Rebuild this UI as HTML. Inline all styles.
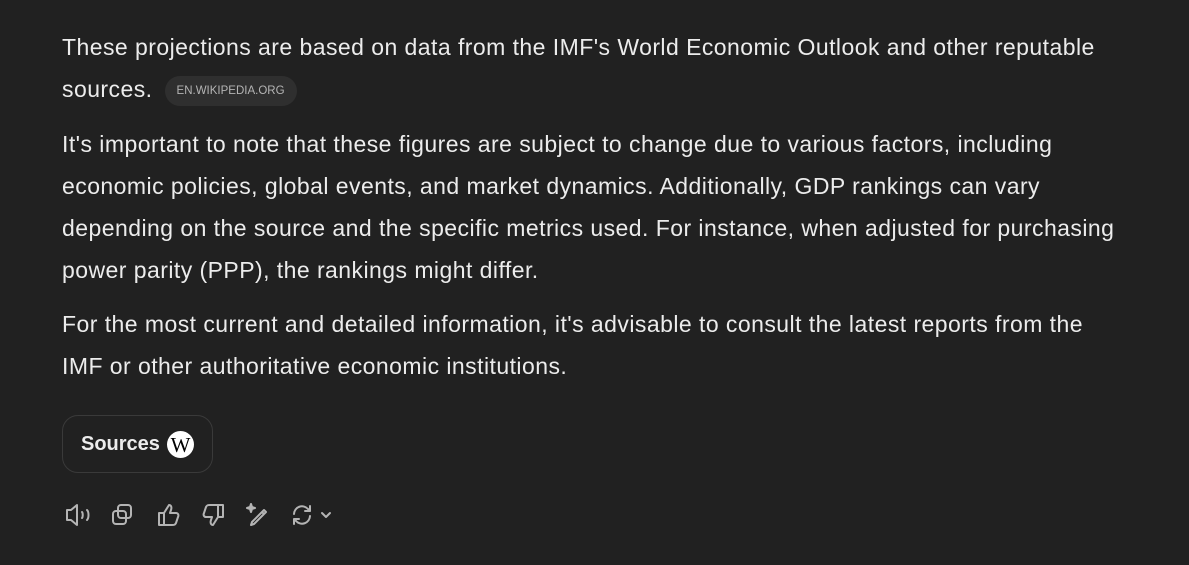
<!DOCTYPE html>
<html><head><meta charset="utf-8"><style>
body{margin:0;width:1189px;height:565px;background:#212121;overflow:hidden;font-family:"Liberation Sans",sans-serif;color:#ececec}
.l{position:absolute;left:62px;font-size:23px;line-height:42px;height:42px;white-space:nowrap;letter-spacing:0.45px}
.chip{display:inline-block;background:#2f2f2f;color:#b4b4b4;font-size:11.5px;line-height:30px;height:30px;padding:0 12px;border-radius:15px;vertical-align:middle;margin-left:12px;letter-spacing:0}
.btn{position:absolute;left:62px;top:415px;width:151px;height:58px;border:1px solid #3a3a3a;border-radius:16px;box-sizing:border-box}
.ic{position:absolute;top:502px}
</style></head><body>
<div class="l" style="top:26px">These projections are based on data from the IMF's World Economic Outlook and other reputable</div>
<div class="l" style="top:68px">sources.<span class="chip">EN.WIKIPEDIA.ORG</span></div>
<div class="l" style="top:123px">It's important to note that these figures are subject to change due to various factors, including</div>
<div class="l" style="top:165px">economic policies, global events, and market dynamics. Additionally, GDP rankings can vary</div>
<div class="l" style="top:207px">depending on the source and the specific metrics used. For instance, when adjusted for purchasing</div>
<div class="l" style="top:249px">power parity (PPP), the rankings might differ.</div>
<div class="l" style="top:303px">For the most current and detailed information, it's advisable to consult the latest reports from the</div>
<div class="l" style="top:345px">IMF or other authoritative economic institutions.</div>
<div class="btn">
 <span style="position:absolute;left:18px;top:17px;font-size:20px;font-weight:bold;letter-spacing:0">Sources</span>
 <span style="position:absolute;left:104px;top:15px;width:27px;height:27px;border-radius:50%;background:#fff;color:#000;font-family:'Liberation Serif',serif;font-size:21px;text-align:center;line-height:28px">W</span>
</div>
<svg class="ic" style="left:64px" width="290" height="28" fill="none" stroke="#b4b4b4" stroke-width="2" stroke-linecap="round" stroke-linejoin="round">
 <g><path d="M3 8h4l6-5v20l-6-5H3z"/><path d="M18 10c1 1 1 5 0 6M23 8c2 2 2 8 0 10"/></g>
 <g transform="translate(46,0)"><rect x="8" y="3" width="13" height="13" rx="3"/><rect x="3" y="9" width="13" height="13" rx="3"/></g>
 <g transform="translate(92,0)"><path d="M3 11h5v12H3zM8 11l5-8c2 0 3 2 2 5l-1 3h6c2 0 3 2 2 4l-2 6c-1 2-2 2-4 2H8"/></g>
 <g transform="translate(138,0)"><path d="M21 15h-5V3h5zM16 15l-5 8c-2 0-3-2-2-5l1-3H4c-2 0-3-2-2-4l2-6c1-2 2-2 4-2h8"/></g>
 <g transform="translate(182,0)"><path d="M8 22l-3 1 1-3L18 8l2 2zM16 10l2 2"/><path d="M5 2l1 3 3 1-3 1-1 3-1-3-3-1 3-1z" fill="#b4b4b4"/></g>
 <g transform="translate(226,0)"><path d="M4 12a8 8 0 0 1 14-5l2 2M20 4v5h-5M20 14a8 8 0 0 1-14 5l-2-2M4 22v-5h5"/><path d="M32 11l4 4 4-4"/></g>
</svg>
</body></html>
